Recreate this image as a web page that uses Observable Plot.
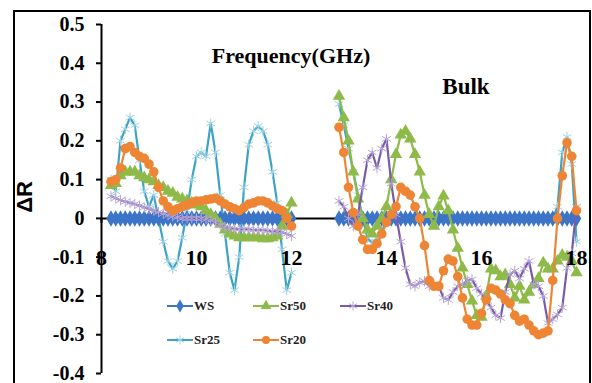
<!DOCTYPE html>
<html><head><meta charset="utf-8">
<script src="https://cdn.jsdelivr.net/npm/d3@7"></script>
<script src="https://cdn.jsdelivr.net/npm/@observablehq/plot@0.6"></script>
<style>
html,body{margin:0;padding:0;background:#fff;}
#wrap{position:relative;width:592px;height:383px;overflow:hidden;font-family:"Liberation Serif","Times New Roman",serif;}
#frame{position:absolute;left:13px;top:10px;width:574px;height:420px;border:2.5px solid #000;pointer-events:none;}
.lbl{position:absolute;transform:translate(-50%,-50%);white-space:nowrap;font-weight:bold;color:#000;}
.leg{position:absolute;display:flex;align-items:center;transform:translateY(-50%);font-weight:bold;font-size:13px;color:#222;}
.leg svg{display:block;margin-right:1px;}
#chart{position:absolute;left:0;top:0;}
</style></head>
<body>
<div id="wrap">
  <div id="chart"></div>
  <div id="frame"></div>
  <div class="lbl" style="left:25px;top:197px;font-family:'Liberation Sans',Arial,sans-serif;font-size:22px;transform:translate(-50%,-50%) rotate(-90deg);">ΔR</div>
  <div class="lbl" style="left:291px;top:56px;font-size:22px;">Frequency(GHz)</div>
  <div class="lbl" style="left:466px;top:87px;font-size:23px;">Bulk</div>
  <div id="legend"></div>
</div>
<script>
// ---- data ----
const seriesNames = ["WS", "Sr50", "Sr40", "Sr25", "Sr20"];
const seriesColors = ["#3C74C8", "#8DBA48", "#7A5BA8", "#3DA3C4", "#EE8534"];
const markerColors = ["#3C74C8", "#8DBA48", "#B7A6D8", "#9FD3E6", "#EE8534"];

const yTicks = [-0.4, -0.3, -0.2, -0.1, 0, 0.1, 0.2, 0.3, 0.4, 0.5];
const xTicks = [8, 10, 12, 14, 16, 18];

const freq1 = [8.2,8.3,8.4,8.5,8.6,8.7,8.8,8.9,9.0,9.1,9.2,9.3,9.4,9.5,9.6,9.7,9.8,9.9,10.0,10.1,
  10.2,10.3,10.4,10.5,10.6,10.7,10.8,10.9,11.0,11.1,11.2,11.3,11.4,11.5,11.6,11.7,11.8,11.9,12.0];
const freq2 = [13.0,13.1,13.2,13.3,13.4,13.5,13.6,13.7,13.8,13.9,14.0,14.1,14.2,14.3,14.4,14.5,14.6,14.7,14.8,14.9,
  15.0,15.1,15.2,15.3,15.4,15.5,15.6,15.7,15.8,15.9,16.0,16.1,16.2,16.3,16.4,16.5,16.6,16.7,16.8,16.9,
  17.0,17.1,17.2,17.3,17.4,17.5,17.6,17.7,17.8,17.9,18.0];

const ws1 = [0,0,0,0,0,0,0,0,0,0, 0,0,0,0,0,0,0,0,0,0, 0,0,0,0,0,0,0,0,0,0, 0,0,0,0,0,0,0,0,0];
const ws2 = [0,0,0,0,0,0,0,0,0,0, 0,0,0,0,0,0,0,0,0,0, 0,0,0,0,0,0,0,0,0,0, 0,0,0,0,0,0,0,0,0,0, 0,0,0,0,0,0,0,0,0,0, 0];

const sr50_1 = [0.085,0.09,0.11,0.12,0.12,0.12,0.11,0.105,0.10,0.095, 0.085,0.08,0.07,0.065,0.055,0.05,0.045,0.04,0.035,0.03,
  0.02,0.01,0.0,-0.015,-0.03,-0.04,-0.045,-0.05,-0.05,-0.05, -0.05,-0.05,-0.052,-0.052,-0.05,-0.045,-0.02,0.01,0.04];
const sr50_2 = [0.315,0.26,0.20,0.12,0.05,0.0,-0.03,-0.04,-0.02,0.0, 0.03,0.10,0.165,0.215,0.225,0.205,0.165,0.12,0.06,0.01,
  -0.02,0.03,0.058,0.02,-0.03,-0.077,-0.128,-0.17,-0.213,-0.25, -0.255,-0.20,-0.13,-0.135,-0.15,-0.145,-0.17,-0.205,-0.175,-0.21,
  -0.19,-0.17,-0.155,-0.115,-0.13,-0.13,-0.11,-0.095,-0.10,-0.11, -0.14];

const sr40_1 = [0.057,0.052,0.047,0.043,0.04,0.037,0.033,0.028,0.025,0.02, 0.016,0.012,0.008,0.005,0.003,0.0,0.0,0.0,0.0,0.0,
  -0.002,-0.005,-0.01,-0.018,-0.022,-0.025,-0.027,-0.028,-0.028,-0.028, -0.03,-0.03,-0.03,-0.032,-0.033,-0.033,-0.035,-0.04,-0.045];
const sr40_2 = [0.045,0.03,0.0,-0.02,0.01,0.08,0.15,0.17,0.13,0.18, 0.205,0.09,0.01,-0.06,-0.128,-0.17,-0.175,-0.165,-0.162,-0.175,
  -0.17,-0.175,-0.205,-0.21,-0.19,-0.175,-0.17,-0.16,-0.157,-0.18, -0.195,-0.21,-0.23,-0.25,-0.257,-0.19,-0.145,-0.135,-0.155,-0.13,
  -0.11,-0.17,-0.175,-0.20,-0.27,-0.26,-0.248,-0.23,-0.128,-0.09, 0.03];

const sr25_1 = [0.10,0.07,0.20,0.23,0.26,0.24,0.15,0.07,0.03,0.06, 0.00,-0.06,-0.11,-0.13,-0.11,-0.05,0.02,0.10,0.16,0.17,
  0.16,0.245,0.17,0.06,-0.04,-0.14,-0.185,-0.10,0.08,0.19, 0.225,0.238,0.225,0.19,0.12,0.04,-0.08,-0.185,-0.14];
const sr25_2 = [0.295,0.24,0.18,0.12,0.06,0.0,-0.05,-0.065,-0.05,-0.03, -0.01,0,0,0,0,0,0,0,0,0,
  0,0,0,0,0,0,0,0,0,0, 0,0,0,0,0,0,0,0,0,0, 0,0,0,0,0,0,0.03,0.17,0.21,0.14, -0.06];

const sr20_1 = [0.095,0.10,0.13,0.18,0.185,0.17,0.16,0.155,0.14,0.12, 0.08,0.045,0.03,0.02,0.025,0.03,0.035,0.04,0.045,0.045,
  0.048,0.05,0.052,0.045,0.037,0.03,0.025,0.02,0.028,0.037, 0.04,0.045,0.045,0.04,0.032,0.025,0.02,0.0,-0.02];
const sr20_2 = [0.235,0.17,0.08,0.015,-0.02,-0.055,-0.08,-0.08,-0.065,-0.04, -0.01,0.01,0.03,0.08,0.07,0.06,0.03,0.0,-0.07,-0.16,
  -0.175,-0.175,-0.135,-0.105,-0.11,-0.15,-0.205,-0.26,-0.275,-0.275, -0.245,-0.21,-0.18,-0.185,-0.195,-0.21,-0.22,-0.25,-0.265,-0.26,
  -0.275,-0.29,-0.30,-0.296,-0.29,-0.16,0.0,0.11,0.195,0.16, 0.02];

// ---- table ----
const band1 = {WS: ws1, Sr50: sr50_1, Sr40: sr40_1, Sr25: sr25_1, Sr20: sr20_1};
const band2 = {WS: ws2, Sr50: sr50_2, Sr40: sr40_2, Sr25: sr25_2, Sr20: sr20_2};
const rows = [];
for (const s of seriesNames) {
  band1[s].forEach((v, i) => rows.push({series: s, band: 1, f: freq1[i], v}));
  band2[s].forEach((v, i) => rows.push({series: s, band: 2, f: freq2[i], v}));
}
const colorOf = Object.fromEntries(seriesNames.map((s, i) => [s, seriesColors[i]]));
const markOf = Object.fromEntries(seriesNames.map((s, i) => [s, markerColors[i]]));

const symbolOf = {WS: "diamond", Sr50: "triangle", Sr40: "asterisk", Sr25: "asterisk", Sr20: "circle"};
const sizeOf = {WS: 5, Sr50: 4.6, Sr40: 4.8, Sr25: 4.8, Sr20: 4.8};

function seriesMarks(s) {
  const d = rows.filter(r => r.series === s);
  const filled = symbolOf[s] !== "asterisk";
  return [
    Plot.line(d, {x: "f", y: "v", z: "band", stroke: colorOf[s], strokeWidth: 2.2}),
    Plot.dot(d, filled
      ? {x: "f", y: "v", symbol: () => symbolOf[s], r: sizeOf[s], fill: markOf[s], stroke: "none"}
      : {x: "f", y: "v", symbol: () => symbolOf[s], r: sizeOf[s], stroke: markOf[s], strokeWidth: 1, fill: "none"})
  ];
}

const fmt = d => String(+d.toFixed(1));
const drawOrder = ["Sr25", "WS", "Sr50", "Sr40", "Sr20"];

const chart = Plot.plot({
  width: 592, height: 383,
  marginLeft: 101, marginRight: 16, marginTop: 24, marginBottom: 10,
  x: {domain: [8, 18]},
  y: {domain: [-0.4, 0.5]},
  symbol: {type: "identity"},
  style: {background: "transparent", fontFamily: "'Liberation Serif','Times New Roman',serif", color: "#000"},
  marks: [
    Plot.axisY({ticks: yTicks, tickSize: 5, tickPadding: 12, tickFormat: fmt, fontSize: 20, fontWeight: "bold", strokeWidth: 2, label: null}),
    Plot.axisX({ticks: [], label: null}),
    Plot.ruleX([8], {stroke: "#000", strokeWidth: 2}),
    Plot.ruleY([0], {x1: 8, x2: 18, stroke: "#000", strokeWidth: 2}),
    Plot.ruleX(xTicks, {x: d => d, y1: 0, y2: -0.013, stroke: "#000", strokeWidth: 2}),
    ...drawOrder.flatMap(seriesMarks),
    Plot.text(xTicks, {x: d => d, y: 0, dy: 40, text: d => String(d), fontSize: 22, fontWeight: "bold", fill: "#000"})
  ]
});
document.getElementById("chart").appendChild(chart);

// ---- legend ----
const legendPos = {WS: [167, 306], Sr50: [253, 306], Sr40: [340, 306], Sr25: [167, 340], Sr20: [253, 340]};
const legend = document.getElementById("legend");
for (const s of seriesNames) {
  const [lx, ly] = legendPos[s];
  const item = document.createElement("div");
  item.className = "leg";
  item.style.left = lx + "px";
  item.style.top = ly + "px";
  const sym = d3.symbol().type({diamond: d3.symbolDiamond, triangle: d3.symbolTriangle, asterisk: d3.symbolAsterisk, circle: d3.symbolCircle}[symbolOf[s]]).size(symbolOf[s] === "asterisk" ? 60 : 50)();
  const filled = symbolOf[s] !== "asterisk";
  item.innerHTML = `<svg width="26" height="14" viewBox="0 0 26 14">
    <line x1="0" y1="7" x2="26" y2="7" stroke="${colorOf[s]}" stroke-width="2"/>
    <path d="${sym}" transform="translate(13,7)" ${filled ? `fill="${markOf[s]}"` : `fill="none" stroke="${markOf[s]}" stroke-width="1"`}/>
  </svg><span>${s}</span>`;
  legend.appendChild(item);
}
</script>
</body></html>
